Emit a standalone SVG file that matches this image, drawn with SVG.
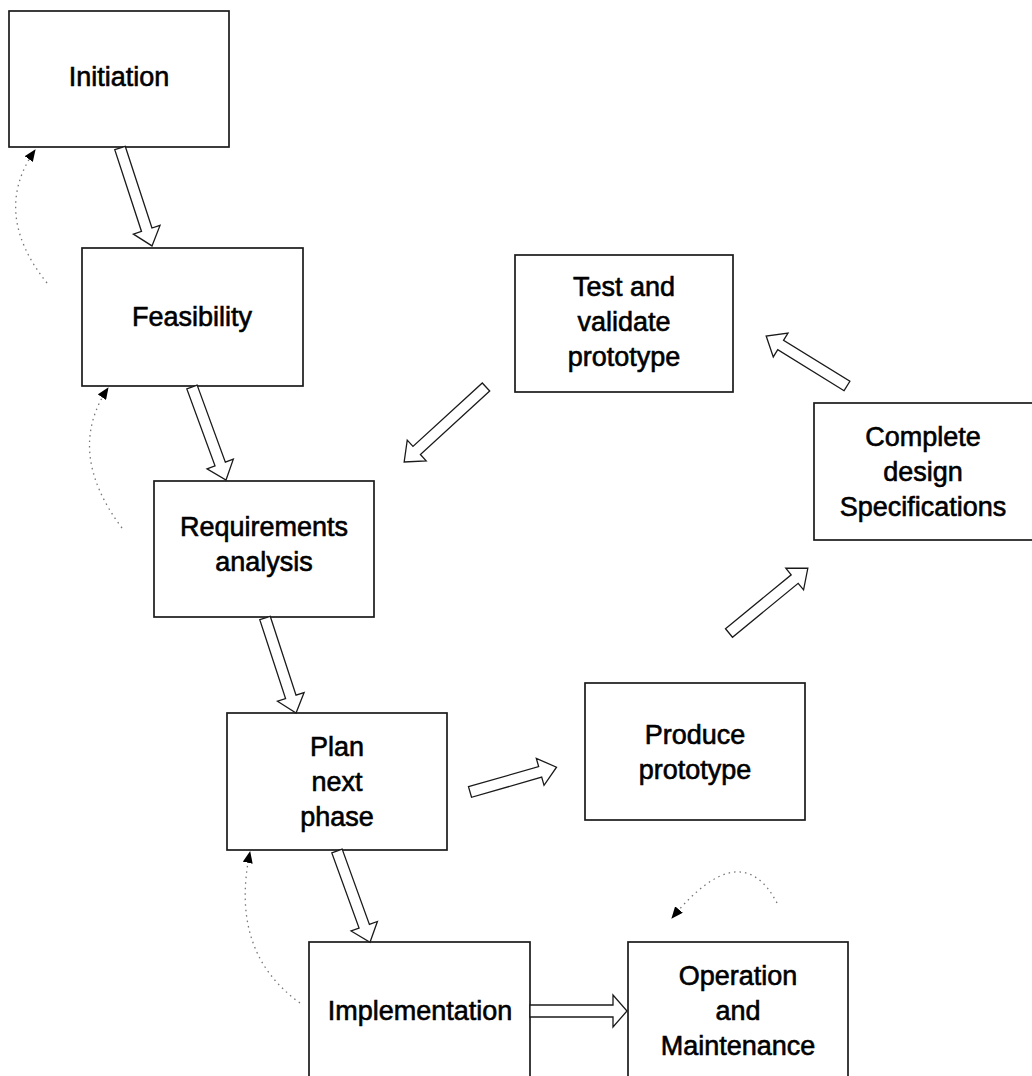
<svg xmlns="http://www.w3.org/2000/svg" width="1032" height="1076" viewBox="0 0 1032 1076">
<defs>
<style>
.box{fill:#fff;stroke:#1a1a1a;stroke-width:1.7}
.lbl{font-family:"Liberation Sans",Arial,sans-serif;font-size:27px;fill:#000;text-anchor:middle;stroke:#000;stroke-width:0.6}
.blk{fill:#fff;stroke:#1a1a1a;stroke-width:1.3;stroke-linejoin:miter}
.dot{fill:none;stroke:#777;stroke-width:1.3;stroke-dasharray:1.5 4}
</style>
<marker id="ah" viewBox="0 0 12 10" refX="11" refY="5" markerWidth="12" markerHeight="10" markerUnits="userSpaceOnUse" orient="auto">
<path d="M0,0 L12,5 L0,10 Z" fill="#000"/>
</marker>
</defs>
<rect width="1032" height="1076" fill="#fff"/>

<g id="n-initiation"><rect class="box" x="9" y="11" width="220" height="136"/><text class="lbl" x="119" y="86">Initiation</text></g>
<g id="n-feasibility"><rect class="box" x="82" y="248" width="221" height="138"/><text class="lbl" x="192" y="326">Feasibility</text></g>
<g id="n-requirements"><rect class="box" x="154" y="481" width="220" height="136"/><text class="lbl" x="264" y="536">Requirements</text><text class="lbl" x="264" y="571">analysis</text></g>
<g id="n-plan"><rect class="box" x="227" y="713" width="220" height="137"/><text class="lbl" x="337" y="756">Plan</text><text class="lbl" x="337" y="791">next</text><text class="lbl" x="337" y="826">phase</text></g>
<g id="n-implementation"><rect class="box" x="309" y="942" width="221" height="140"/><text class="lbl" x="420" y="1020">Implementation</text></g>
<g id="n-operation"><rect class="box" x="628" y="942" width="220" height="140"/><text class="lbl" x="738" y="985">Operation</text><text class="lbl" x="738" y="1020">and</text><text class="lbl" x="738" y="1055">Maintenance</text></g>
<g id="n-produce"><rect class="box" x="585" y="683" width="220" height="137"/><text class="lbl" x="695" y="744">Produce</text><text class="lbl" x="695" y="779">prototype</text></g>
<g id="n-complete"><rect class="box" x="814" y="403" width="220" height="137"/><text class="lbl" x="923" y="446">Complete</text><text class="lbl" x="923" y="481">design</text><text class="lbl" x="923" y="516">Specifications</text></g>
<g id="n-test"><rect class="box" x="515" y="255" width="218" height="137"/><text class="lbl" x="624" y="296">Test and</text><text class="lbl" x="624" y="331">validate</text><text class="lbl" x="624" y="366">prototype</text></g>

<g id="connectors">
<path class="blk" transform="translate(120,148) rotate(71.9)" d="M0,-5.5 L86,-5.5 L86,-14 L103,0 L86,14 L86,5.5 L0,5.5 Z"/>
<path class="blk" transform="translate(192,387) rotate(69.9)" d="M0,-5.5 L82,-5.5 L82,-14 L99,0 L82,14 L82,5.5 L0,5.5 Z"/>
<path class="blk" transform="translate(265,618) rotate(71.9)" d="M0,-5.5 L83,-5.5 L83,-14 L100,0 L83,14 L83,5.5 L0,5.5 Z"/>
<path class="blk" transform="translate(337,851) rotate(70.1)" d="M0,-5.5 L80,-5.5 L80,-14 L97,0 L80,14 L80,5.5 L0,5.5 Z"/>
<path class="blk" transform="translate(530,1011)" d="M0,-6 L83,-6 L83,-16 L97,0 L83,16 L83,6 L0,6 Z"/>
<path class="blk" transform="translate(470,792) rotate(-16)" d="M0,-5.5 L73,-5.5 L73,-14 L90,0 L73,14 L73,5.5 L0,5.5 Z"/>
<path class="blk" transform="translate(729,633) rotate(-39.4)" d="M0,-5.5 L85,-5.5 L85,-14 L102,0 L85,14 L85,5.5 L0,5.5 Z"/>
<path class="blk" transform="translate(847,386) rotate(-148.3)" d="M0,-5.5 L78,-5.5 L78,-14 L95,0 L78,14 L78,5.5 L0,5.5 Z"/>
<path class="blk" transform="translate(486,387) rotate(137.5)" d="M0,-5.5 L94,-5.5 L94,-14 L111,0 L94,14 L94,5.5 L0,5.5 Z"/>
<path class="dot" marker-end="url(#ah)" d="M47,283 Q-9,213 35,150"/>
<path class="dot" marker-end="url(#ah)" d="M122,528 Q65,452 108,388"/>
<path class="dot" marker-end="url(#ah)" d="M300,1003 Q229,952 250,852"/>
<path class="dot" marker-end="url(#ah)" d="M777,903 Q741,834 672,918"/>
</g>
</svg>
